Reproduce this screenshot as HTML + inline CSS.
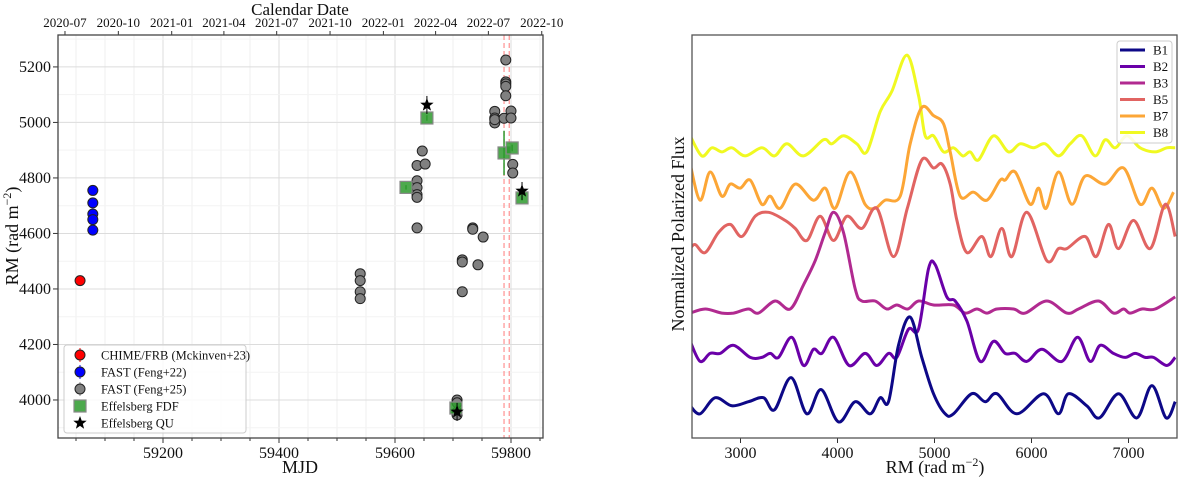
<!DOCTYPE html>
<html><head><meta charset="utf-8"><style>
body{margin:0;background:#fff;}
svg{display:block;font-family:"Liberation Serif","DejaVu Serif",serif;}
</style></head><body>
<svg id="chart" width="1180" height="478" viewBox="0 0 1180 478"></svg>
<script>
// ---------- Left panel data ----------
const chimeMJD=[59057], chimeRM=[4430];
const fast22MJD=[59079,59079,59079,59079,59079], fast22RM=[4755,4710,4670,4650,4612];
const fast25MJD=[59540,59540,59540,59540,59638,59638,59638,59638,59638,59638,59647,59652,59716,59716,59716,59734,59734,59743,59752,59707,59707,59707,59707,59772,59772,59772,59772,59791,59791,59791,59791,59791,59788,59800,59800,59803,59803];
const fast25RM=[4455,4430,4390,4365,4845,4790,4765,4740,4730,4620,4897,4850,4505,4497,4390,4620,4615,4487,4587,4000,3990,3957,3946,5040,5016,4998,5010,5225,5146,5139,5130,5096,5015,5041,5016,4849,4818];
const fdfMJD=[59619,59655,59705,59788,59802,59819], fdfRM=[4766,5016,3971,4890,4908,4728], fdfErr=[8,10,10,80,12,10];
const quMJD=[59655,59707,59819], quRM=[5063,3957,4753];
const dashMJD=[59788,59797];
const mjdTicks=[59200,59400,59600,59800];
const rmTicks=[4000,4200,4400,4600,4800,5000,5200];
const dateLabels=["2020-07","2020-10","2021-01","2021-04","2021-07","2021-10","2022-01","2022-04","2022-07","2022-10"];
const dateMJD=[59031,59123,59215,59305,59396,59488,59580,59670,59761,59853];
// ---------- Right panel data ----------
const bandNames=["B1","B2","B3","B5","B7","B8"];
const bandColors=["#0d0887","#6a00a8","#b12a90","#e16462","#fca636","#f0f921"];
const b1RM=[2481,2584,2739,2911,3082,3237,3350,3522,3684,3832,4010,4182,4337,4440,4526,4629,4749,4869,4990,5110,5196,5385,5523,5643,5849,6124,6278,6381,6570,6701,6897,7086,7241,7388,7481];
const b1F=[8,6,10,8,9,10,7,15,6,12,4,9,6,10,9,23,30,20,11,6,6,11,9,11,6,11,6,11,8,5,11,5,13,5,9];
const b2RM=[2481,2584,2687,2790,2928,3100,3220,3306,3392,3529,3649,3752,3838,3959,4120,4285,4405,4526,4611,4732,4835,4938,5007,5127,5213,5334,5471,5608,5729,5832,5952,6107,6313,6475,6605,6708,6845,6966,7069,7172,7258,7395,7481];
const b2F=[24,19,21,21,23,20,20,21,20,25,18,22,21,25,18,21,18,21,20,27,27,42,43,35,34,29,19,24,21,21,19,22,19,25,19,23,21,20,21,20,20,18,20];
const b3RM=[2481,2636,2808,2928,3082,3185,3357,3512,3649,3770,3873,3959,4062,4182,4251,4388,4508,4611,4725,4835,4990,5196,5316,5437,5540,5643,5815,5935,6158,6364,6485,6691,6845,6949,7017,7138,7275,7481];
const b3F=[31,32,31,31,32,31,34,32,38,44,51,56,51,37,34,34,32,33,32,34,33,33,31,32,31,32,32,31,34,31,32,34,31,32,31,32,32,35];
const b5RM=[2481,2533,2636,2773,2894,3014,3151,3289,3460,3564,3684,3821,3959,4096,4251,4405,4577,4720,4869,4990,5076,5162,5231,5334,5488,5581,5694,5797,5952,6158,6278,6364,6553,6667,6794,6897,7052,7224,7378,7481];
const b5F=[47,48,46,51,53,50,55,56,54,52,49,55,49,55,52,57,45,57,69,67,68,63,54,46,50,45,52,45,56,44,47,47,50,45,53,47,54,47,58,50];
const b7RM=[2481,2584,2687,2808,2894,2997,3100,3220,3306,3409,3564,3752,3873,3976,4130,4285,4388,4491,4646,4749,4869,4990,5093,5162,5265,5402,5540,5677,5729,5832,5986,6072,6151,6278,6416,6553,6760,6949,7120,7241,7361,7464];
const b7F=[68,59,66,60,63,62,64,58,60,57,63,59,62,57,66,58,57,59,60,73,82,80,78,71,60,61,59,64,64,66,58,62,57,66,58,65,63,67,58,62,57,61];
const b8RM=[2481,2601,2705,2808,2911,3048,3220,3350,3478,3649,3856,3941,4062,4199,4302,4440,4560,4715,4835,4904,4990,5093,5196,5292,5368,5454,5608,5763,5883,6021,6141,6278,6399,6519,6656,6760,6863,6983,7120,7275,7395,7481];
const b8F=[75,70,72,71,72,70,72,70,73,70,74,73,75,73,71,81,86,95,85,75,75,71,72,70,71,69,75,71,73,72,73,70,73,75,70,74,72,75,72,71,72,72];
const rmTicksR=[3000,4000,5000,6000,7000];

const svg=document.getElementById('chart');
const NS='http://www.w3.org/2000/svg';
function mk(tag,attrs,parent){const e=document.createElementNS(NS,tag);for(const k in attrs)e.setAttribute(k,attrs[k]);(parent||svg).appendChild(e);return e;}

// ---------- Left axes ----------
const L={x0:58,x1:543,y0:35,y1:438};
const xL=m=>163+(m-59200)*0.58;
const yL=r=>L.y1-(r-3863)*(L.y1-L.y0)/(5315-3863);
const gL=mk('g',{});


for(let m=59050;m<=59850;m+=50){const gl=mk('line',{x1:xL(m),x2:xL(m),y1:L.y0,y2:L.y1,stroke:(m%200===0)?'#dcdcdc':'#efefef','stroke-width':1},gL);}
for(let r=3900;r<=5300;r+=100){const gl=mk('line',{x1:L.x0,x2:L.x1,y1:yL(r),y2:yL(r),stroke:(r%200===0)?'#dcdcdc':'#f3f3f3','stroke-width':1},gL);}
dashMJD.forEach(m=>{const d=mk('line',{x1:xL(m),x2:xL(m),y1:L.y0,y2:L.y1,stroke:'#ff9a9a','stroke-width':1.3,'stroke-dasharray':'5,3'},gL);});
for(let m=59050;m<=59850;m+=50){const big=m%200===0;const t=mk('line',{x1:xL(m),x2:xL(m),y1:L.y1,y2:L.y1+(big?5:3),stroke:'#333'},gL);}
mjdTicks.forEach(m=>{const t=mk('text',{x:xL(m),y:L.y1+20,'font-size':16,'text-anchor':'middle',fill:'#111'},gL);t.textContent=m;});
rmTicks.forEach(r=>{mk('line',{x1:L.x0-5,x2:L.x0,y1:yL(r),y2:yL(r),stroke:'#333'},gL);const t=mk('text',{x:L.x0-7,y:yL(r)+5,'font-size':16,'text-anchor':'end',fill:'#111'},gL);t.textContent=r;});
dateMJD.forEach((m,i)=>{mk('line',{x1:xL(m),x2:xL(m),y1:L.y0-4,y2:L.y0,stroke:'#333'},gL);const t=mk('text',{x:xL(m),y:L.y0-8,'font-size':13,'text-anchor':'middle',fill:'#111'},gL);t.textContent=dateLabels[i];});
{const t=mk('text',{x:300,y:15,'font-size':17,'text-anchor':'middle',fill:'#111'},gL);t.textContent='Calendar Date';}
{const t=mk('text',{x:300,y:473,'font-size':18,'text-anchor':'middle',fill:'#111'},gL);t.textContent='MJD';}
{const t=mk('text',{x:0,y:0,'font-size':18,'text-anchor':'middle',fill:'#111',transform:'translate(18,236) rotate(-90)'},gL);t.innerHTML='RM (rad m<tspan dy="-7" font-size="12">−2</tspan><tspan dy="7">)</tspan>';}

function circle(x,y,fill,parent,name){const c=mk('circle',{cx:x,cy:y,r:5,fill:fill,stroke:'#222','stroke-width':1},parent);return c;}
function square(x,y,parent,name){const s=mk('rect',{x:x-6,y:y-6,width:12,height:12,fill:'#2e9a2e','fill-opacity':0.85,stroke:'#888','stroke-width':1.2},parent);return s;}
function star(x,y,r,parent,name){let p=[];for(let i=0;i<10;i++){const a=-Math.PI/2+i*Math.PI/5;const rr=i%2?r*0.42:r;p.push((x+rr*Math.cos(a)).toFixed(1)+','+(y+rr*Math.sin(a)).toFixed(1));}const s=mk('polygon',{points:p.join(' '),fill:'#000'},parent);return s;}

fast25MJD.forEach((m,i)=>circle(xL(m),yL(fast25RM[i]),'#808080',gL,'fast-feng25-point'));
fdfMJD.forEach((m,i)=>{const e=mk('line',{x1:xL(m),x2:xL(m),y1:yL(fdfRM[i]-fdfErr[i]),y2:yL(fdfRM[i]+fdfErr[i]),stroke:'#2e9a2e','stroke-width':1.5},gL);square(xL(m),yL(fdfRM[i]),gL,'effelsberg-fdf-point');});
quMJD.forEach((m,i)=>{mk('line',{x1:xL(m),x2:xL(m),y1:yL(quRM[i])-9,y2:yL(quRM[i])+9,stroke:'#000','stroke-width':1},gL);star(xL(m),yL(quRM[i]),7,gL,'effelsberg-qu-point');});
fast22MJD.forEach((m,i)=>circle(xL(m),yL(fast22RM[i]),'#0000ff',gL,'fast-feng22-point'));
chimeMJD.forEach((m,i)=>circle(xL(m),yL(chimeRM[i]),'#ff0000',gL,'chime-point'));
{const b=mk('rect',{x:L.x0,y:L.y0,width:L.x1-L.x0,height:L.y1-L.y0,fill:'none',stroke:'#444','stroke-width':1.3},gL);}
{const lg=mk('g',{},gL);
mk('rect',{x:64,y:345,width:182,height:88,rx:3,fill:'#fff','fill-opacity':0.85,stroke:'#ccc'},lg);
const labs=['CHIME/FRB (Mckinven+23)','FAST (Feng+22)','FAST (Feng+25)','Effelsberg FDF','Effelsberg QU'];
labs.forEach((s,i)=>{const y=355+i*17;const e=mk('g',{},lg);
 if(i<3){mk('line',{x1:80,x2:80,y1:y-7,y2:y+7,stroke:['#f00','#00f','#888'][i]},e);circle(80,y,['#ff0000','#0000ff','#808080'][i],e,'legend-marker');}
 else if(i===3){square(80,y,e,'legend-marker');}else{star(80,y,7,e,'legend-marker');}
 const t=mk('text',{x:101,y:y+4.5,'font-size':12.5,fill:'#111'},e);t.textContent=s;});}

// ---------- Right axes ----------
const R={x0:692,x1:1177,y0:35,y1:438};
const xR=v=>R.x0+(v-2500)*(R.x1-R.x0)/5000;
const yR=v=>R.y1-v*(R.y1-R.y0)/100;
const gR=mk('g',{});


rmTicksR.forEach(v=>{mk('line',{x1:xR(v),x2:xR(v),y1:R.y1,y2:R.y1+5,stroke:'#333'},gR);const t=mk('text',{x:xR(v),y:R.y1+20,'font-size':16,'text-anchor':'middle',fill:'#111'},gR);t.textContent=v;});
{const t=mk('text',{x:935,y:473,'font-size':18,'text-anchor':'middle',fill:'#111'},gR);t.innerHTML='RM (rad m<tspan dy="-7" font-size="12">−2</tspan><tspan dy="7">)</tspan>';}
{const t=mk('text',{x:0,y:0,'font-size':18,'text-anchor':'middle',fill:'#111',transform:'translate(684,234) rotate(-90)'},gR);t.textContent='Normalized Polarized Flux';}
function smooth(pts){let d='M'+pts[0][0].toFixed(1)+','+pts[0][1].toFixed(1);for(let i=0;i<pts.length-1;i++){const p0=pts[Math.max(0,i-1)],p1=pts[i],p2=pts[i+1],p3=pts[Math.min(pts.length-1,i+2)];const c1=[p1[0]+(p2[0]-p0[0])/6,p1[1]+(p2[1]-p0[1])/6],c2=[p2[0]-(p3[0]-p1[0])/6,p2[1]-(p3[1]-p1[1])/6];d+=' C'+c1[0].toFixed(1)+','+c1[1].toFixed(1)+' '+c2[0].toFixed(1)+','+c2[1].toFixed(1)+' '+p2[0].toFixed(1)+','+p2[1].toFixed(1);}return d;}
const series=[[b1RM,b1F],[b2RM,b2F],[b3RM,b3F],[b5RM,b5F],[b7RM,b7F],[b8RM,b8F]];
const cp=mk('clipPath',{id:'clipR'},gR);
mk('rect',{x:R.x0,y:R.y0,width:R.x1-R.x0,height:R.y1-R.y0},cp);
for(let k=series.length-1;k>=0;k--){const [rx,fy]=series[k];const pts=rx.map((v,i)=>[xR(v),yR(fy[i])]);const p=mk('path',{d:smooth(pts),fill:'none',stroke:bandColors[k],'stroke-width':3,'stroke-linejoin':'round','clip-path':'url(#clipR)'},gR);

}
{const b=mk('rect',{x:R.x0,y:R.y0,width:R.x1-R.x0,height:R.y1-R.y0,fill:'none',stroke:'#555','stroke-width':1.3},gR);}
{const lg=mk('g',{},gR);
mk('rect',{x:1117,y:41,width:55,height:102,rx:3,fill:'#fff','fill-opacity':0.85,stroke:'#ccc'},lg);
bandNames.forEach((n,i)=>{const y=50+i*16.5;const e=mk('g',{},lg);
 mk('line',{x1:1120,x2:1145,y1:y,y2:y,stroke:bandColors[i],'stroke-width':3},e);const t=mk('text',{x:1153,y:y+4.5,'font-size':13,fill:'#111'},e);t.textContent=n;});}
</script>
</body></html>
